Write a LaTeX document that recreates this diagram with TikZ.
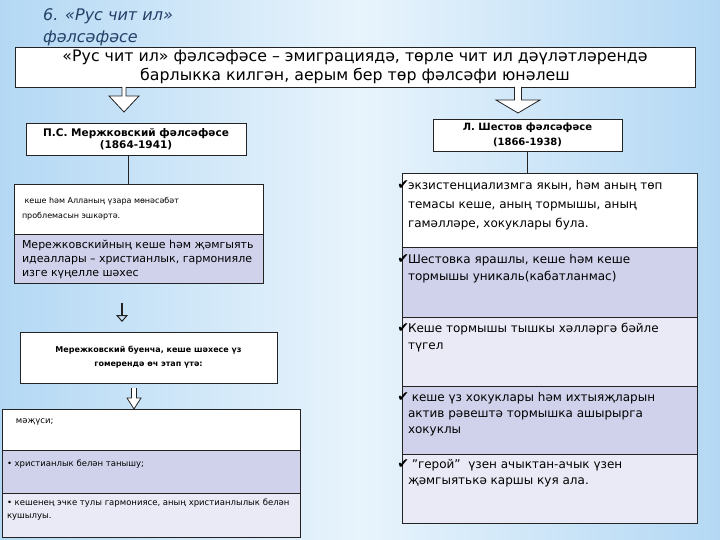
\documentclass[tikz,border=0pt]{standalone}
\usepackage{fontspec}
\setmainfont{DejaVu Sans}
\usetikzlibrary{positioning, calc, arrows.meta}

\definecolor{bgblue}{RGB}{180,216,244}
\definecolor{bglight}{RGB}{232,244,252}
\definecolor{lav}{RGB}{208,210,236}
\definecolor{lavlight}{RGB}{233,234,246}
\definecolor{titleblue}{RGB}{36,64,104}
\definecolor{linec}{RGB}{35,35,35}

% cell text: height, width, first baseline, text
\newcommand{\cell}[4]{\parbox[c][#1][t]{#2}{\rule{0pt}{#3}#4}}
\newcommand{\chk}{\llap{\fontsize{14}{14}\selectfont ✔\hspace{-1pt}}}
% hollow block arrow: start, tip, shaft half, head half, head length
\newcommand{\hollowarrow}[5]{%
  \draw[linec, fill=white, line width=0.8pt] let \p1=(#1), \p2=(#2) in
    (\x1-#3,\y1) -- (\x1-#3,\y2+#5) -- (\x1-#4,\y2+#5) -- (\x1,\y2)
    -- (\x1+#4,\y2+#5) -- (\x1+#3,\y2+#5) -- (\x1+#3,\y1);}

\begin{document}
\begin{tikzpicture}[x=1pt, y=-1pt,
  box/.style={draw=linec, line width=0.9pt, fill=white, align=center,
    inner sep=0pt, outer sep=0pt, anchor=north west},
  cellrow/.style={draw=linec, line width=0.9pt, inner ysep=0pt,
    outer sep=0pt, anchor=north west},
  checkrow/.style={cellrow, inner xsep=6pt,
    font=\fontsize{12}{17}\selectfont}]
  \useasboundingbox (0,0) rectangle (720,540);
  \fill[left color=bgblue, right color=bgblue, middle color=bglight]
    (0,0) rectangle (720,540);

  \node[anchor=north west, align=left, inner sep=0pt, text=titleblue,
    font=\itshape\fontsize{16}{22.5}\selectfont] (title) at (43,8)
    {6. «Рус чит ил»\\фәлсәфәсе};
  \node[box, minimum width=680pt, minimum height=40pt,
    font=\fontsize{15.8}{19}\selectfont] (intro) at (15,47)
    {«Рус чит ил» фәлсәфәсе – эмиграциядә, төрле чит ил дәүләтләрендә\\
     барлыкка килгән, аерым бер төр фәлсәфи юнәлеш};

  % Merezhkovsky side
  \node[box, minimum width=220pt, minimum height=32pt,
    font=\bfseries\fontsize{10.5}{12.5}\selectfont] (merzh) at (26,123)
    {П.С. Мержковский фәлсәфәсе\\(1864-1941)};
  \node[cellrow, fill=white, inner xsep=8pt, font=\fontsize{8}{15}\selectfont]
    (mA) at (14,184) {\cell{50pt}{233pt}{20pt}{ кеше һәм Алланың үзара мөнәсәбәт\\проблемасын эшкәртә.}};
  \node[cellrow, fill=lav, inner xsep=8pt, font=\fontsize{11}{14}\selectfont,
    below=0pt of mA] (mB) {\cell{49pt}{233pt}{14.5pt}{Мережковскийның кеше һәм җәмгыять\\
    идеаллары – христианлык, гармонияле\\изге күңелле шәхес}};
  \node[box, minimum width=257pt, minimum height=51pt,
    font=\bfseries\fontsize{8}{14}\selectfont] (stages) at (20,332)
    {Мережковский буенча, кеше шәхесе үз\\гомерендә өч этап үтә:};
  \node[cellrow, fill=white, inner xsep=5pt, font=\fontsize{8.5}{13}\selectfont]
    (sA) at (2,409) {\cell{41pt}{288pt}{14pt}{\hspace{9pt}мәҗүси;}};
  \node[cellrow, fill=lav, inner xsep=5pt, font=\fontsize{8.5}{13}\selectfont,
    below=0pt of sA] (sB) {\cell{43pt}{288pt}{16pt}{• христианлык белән танышу;}};
  \node[cellrow, fill=lavlight, inner xsep=5pt, font=\fontsize{8.5}{13}\selectfont,
    below=0pt of sB] (sC) {\cell{44pt}{288pt}{12pt}{• кешенең эчке тулы гармониясе, аның христианлылык белән\\кушылуы.}};

  % Shestov side
  \node[box, minimum width=189pt, minimum height=32pt,
    font=\bfseries\fontsize{10}{15}\selectfont] (shest) at (433,119)
    {Л. Шестов фәлсәфәсе\\(1866-1938)};
  \node[checkrow, fill=white, font=\fontsize{12}{19}\selectfont] (shA) at (402,173)
    {\cell{74pt}{283pt}{17pt}{\chk экзистенциализмга якын, һәм аның төп\\
    темасы кеше, аның тормышы, аның\\гамәлләре, хокуклары була.}};
  \node[checkrow, fill=lav, below=0pt of shA] (shB)
    {\cell{70pt}{283pt}{16.5pt}{\chk Шестовка ярашлы, кеше һәм кеше\\
    тормышы уникаль(кабатланмас)}};
  \node[checkrow, fill=lavlight, below=0pt of shB] (shC)
    {\cell{69pt}{283pt}{15.5pt}{\chk Кеше тормышы тышкы хәлләргә бәйле\\түгел}};
  \node[checkrow, fill=lav, below=0pt of shC, font=\fontsize{12}{16}\selectfont] (shD)
    {\cell{68pt}{283pt}{15.5pt}{\chk\ кеше үз хокуклары һәм ихтыяҗларын\\
    актив рәвештә тормышка ашырырга\\хокуклы}};
  \node[checkrow, fill=lavlight, below=0pt of shD, font=\fontsize{12}{16}\selectfont] (shE)
    {\cell{69pt}{283pt}{14.5pt}{\chk\ "герой"\ \ үзен ачыктан-ачык үзен\\
    җәмгыятькә каршы куя ала.}};

  % connectors
  \coordinate (tipL) at (124,112);
  \coordinate (tipR) at (518,113);
  \coordinate (tipS) at (134,409);
  \hollowarrow{intro.south -| tipL}{tipL}{2pt}{15pt}{16pt}
  \hollowarrow{intro.south -| tipR}{tipR}{3.5pt}{22pt}{13pt}
  \hollowarrow{$(stages.south -| tipS)+(0,5)$}{tipS}{2.5pt}{7pt}{11pt}
  \draw[linec, line width=0.9pt] (merzh.south -| 128,0) -- (mA.north -| 128,0);
  \draw[linec, line width=0.9pt] (shest.south -| 527,0) -- (shA.north -| 527,0);
  \draw[linec, line width=1.6pt, -{Triangle[open, length=7pt, width=12pt, line width=1pt]},
    shorten <=20pt, shorten >=10pt]
    ([xshift=-16.5pt]mB.south) -- ([xshift=-16.5pt]mB.south |- stages.north);
\end{tikzpicture}
\end{document}
